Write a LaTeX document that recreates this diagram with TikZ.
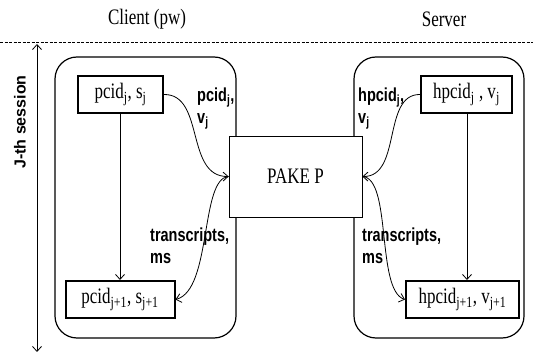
\documentclass[tikz,border=0pt]{standalone}
\usepackage{fontspec}
\usepackage{graphicx}
\setmainfont{Liberation Serif}
\setsansfont{Liberation Sans}
\usetikzlibrary{arrows.meta}
\newcommand{\vstr}[1]{\scalebox{1}[1.3]{#1}}
\newcommand{\twoline}[2]{\vstr{\begin{tabular}{@{}l@{}}#1\\#2\end{tabular}}}
\begin{document}
\begin{tikzpicture}[x=1pt,y=-1pt,
  serif/.style={font=\fontsize{17}{20}\selectfont},
  lbl/.style={font=\sffamily\bfseries\fontsize{14.5}{17}\selectfont, inner sep=0pt},
  party/.style={draw, line width=1.2pt, rounded corners=22pt},
  valbox/.style={draw, line width=2pt, inner sep=0pt},
  arr/.style={line width=0.8pt, -{Straight Barb[length=5pt,width=9pt]}}]
\useasboundingbox (0,0) rectangle (533,355);
% headings
\node[serif] (client) at (147,19) {\vstr{Client (pw)}};
\node[serif] (server) at (444,19) {\vstr{Server}};
\coordinate (dl) at (0,42);
\coordinate (dr) at (533,42);
\draw[line width=0.8pt, dash pattern=on 3pt off 1.5pt] (dl) -- (dr);
% session arrow
\coordinate (st) at (37,44);
\coordinate (sb) at (37,352);
\draw[line width=0.8pt, {Straight Barb[length=5pt,width=9pt]}-{Straight Barb[length=5pt,width=9pt]}] (st) -- (sb);
\node[rotate=90, font=\sffamily\bfseries\fontsize{16}{18}\selectfont] (sess) at (20,122) {J-th session};
% party frames
\node[party, minimum width=181pt, minimum height=281pt] (cframe) at (145.5,197.5) {};
\node[party, minimum width=170pt, minimum height=281pt] (sframe) at (439,197.5) {};
% PAKE
\node[draw, line width=0.8pt, fill=white, minimum width=133pt, minimum height=81pt, serif] (pake) at (295.5,176.5) {\vstr{PAKE P}};
% value boxes
\node[valbox, serif, minimum width=85pt, minimum height=37pt] (c1) at (120.5,94.5) {\vstr{pcid\textsubscript{j}, s\textsubscript{j}}};
\node[valbox, serif, minimum width=109pt, minimum height=37pt] (c2) at (120,299.5) {\vstr{pcid\textsubscript{j+1}, s\textsubscript{j+1}}};
\node[valbox, serif, minimum width=91pt, minimum height=37pt] (s1) at (466.5,94.5) {\vstr{hpcid\textsubscript{j} , v\textsubscript{j}}};
\node[valbox, serif, minimum width=113pt, minimum height=37pt] (s2) at (462.5,299.5) {\vstr{hpcid\textsubscript{j+1}, v\textsubscript{j+1}}};
% vertical arrows
\draw[arr] (c1.south -| 120,0) -- (c2.north -| 120,0);
\draw[arr] (s1.south -| 467,0) -- (s2.north -| 467,0);
% curves
\draw[arr] (c1.east) .. controls (205,94) and (185,177) .. (pake.west);
\draw[arr] (pake.west) .. controls (200,178) and (212,290) .. (c2.east);
\draw[arr] (s1.west) .. controls (382,94) and (402,177) .. (pake.east);
\draw[arr] (pake.east) .. controls (392,178) and (376,290) .. (s2.west);
% labels
\node[lbl, anchor=north west] (lc1) at (197,86) {\twoline{pcid\textsubscript{j},}{v\textsubscript{j}}};
\node[lbl, anchor=north west] (ls1) at (358,86) {\twoline{hpcid\textsubscript{j},}{v\textsubscript{j}}};
\node[lbl, anchor=north west] (lc2) at (150,226) {\twoline{transcripts,}{ms}};
\node[lbl, anchor=north west] (ls2) at (362,226) {\twoline{transcripts,}{ms}};
\end{tikzpicture}
\end{document}
